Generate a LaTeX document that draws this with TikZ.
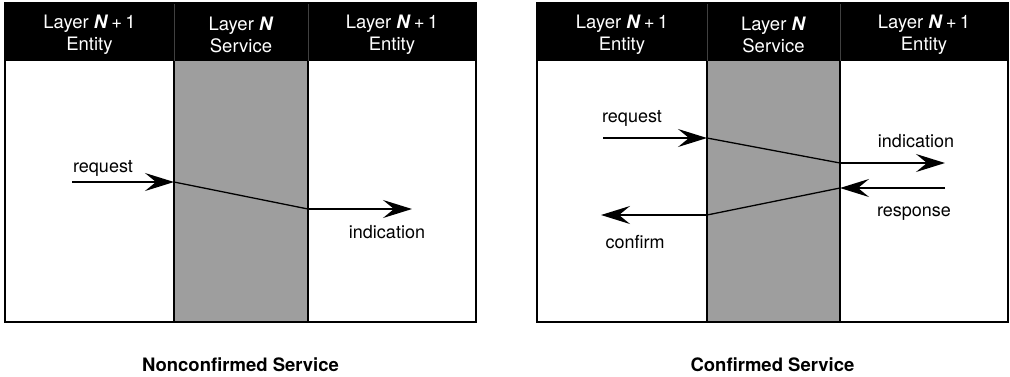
\documentclass[tikz,border=0pt]{standalone}
\usepackage{fontspec}
\setmainfont{TeX Gyre Heros}
\usetikzlibrary{arrows.meta}

\newcommand{\entityhdr}{Layer \textbf{\textit{N}}\,+\,1\\Entity}
\newcommand{\servicehdr}{Layer \textbf{\textit{N}}\\Service}

\tikzset{
  hdr/.style={text=white,align=center,font=\fontsize{18.5}{22}\selectfont},
  lbl/.style={anchor=base,font=\fontsize{18}{20}\selectfont},
  caption/.style={anchor=base,font=\fontsize{18.5}{20}\selectfont\bfseries},
  flow/.style={line width=2pt,-{Stealth[length=29pt,width=18pt,inset=11pt]}},
  pass/.style={line width=1.3pt},
  frame/.style={line width=1.6pt},
  layer/.style={fill=black!38},
}

\begin{document}
\begin{tikzpicture}[x=1pt,y=-1pt]
\useasboundingbox (0,0) rectangle (1010,376);

% nonconfirmed service
\begin{scope}[xshift=5pt]
\fill[black] (0,3) rectangle (471,61);
\fill[layer] (169,61) rectangle (303,322);
\draw[black!75,line width=0.6pt] (169,3) -- (169,61) (303,3) -- (303,61);
\draw[frame] (0,3) rectangle (471,322);
\draw[frame] (169,61) -- (169,322) (303,61) -- (303,322);
\node[hdr] (La) at (84.5,35) {\entityhdr};
\node[hdr] (Lb) at (236,35) {\servicehdr};
\node[hdr] (Lc) at (387,35) {\entityhdr};
\coordinate (Lreq) at (67,182);
\coordinate (Lin) at (169,182);
\coordinate (Lout) at (303,209);
\coordinate (Lind) at (407,209);
\draw[flow] (Lreq) -- (Lin);
\draw[pass] (Lin) -- (Lout);
\draw[flow] (Lout) -- (Lind);
\node[lbl] (Lreqt) at (98,172) {request};
\node[lbl] (Lindt) at (382,238) {indication};
\node[caption] (Lcap) at (235.5,371) {Nonconfirmed Service};
\end{scope}

% confirmed service
\begin{scope}[xshift=537pt]
\fill[black] (0,3) rectangle (471,61);
\fill[layer] (170,61) rectangle (303,322);
\draw[black!75,line width=0.6pt] (170,3) -- (170,61) (303,3) -- (303,61);
\draw[frame] (0,3) rectangle (471,322);
\draw[frame] (170,61) -- (170,322) (303,61) -- (303,322);
\node[hdr] (Ra) at (85,35) {\entityhdr};
\node[hdr] (Rb) at (236.5,35) {\servicehdr};
\node[hdr] (Rc) at (387,35) {\entityhdr};
\coordinate (Rreq) at (66,138);
\coordinate (Rin) at (170,138);
\coordinate (Rout) at (303,163);
\coordinate (Rind) at (408,163);
\coordinate (Rresp) at (408,188);
\coordinate (Rback) at (303,188);
\coordinate (Rret) at (170,215);
\coordinate (Rconf) at (64,215);
\draw[flow] (Rreq) -- (Rin);
\draw[pass] (Rin) -- (Rout);
\draw[flow] (Rout) -- (Rind);
\draw[flow] (Rresp) -- (Rback);
\draw[pass] (Rback) -- (Rret);
\draw[flow] (Rret) -- (Rconf);
\node[lbl] (Rreqt) at (95,122) {request};
\node[lbl] (Rindt) at (379,147) {indication};
\node[lbl] (Rrespt) at (377,216) {response};
\node[lbl] (Rconft) at (98,248) {confirm};
\node[caption] (Rcap) at (235.5,371) {Confirmed Service};
\end{scope}
\end{tikzpicture}
\end{document}
